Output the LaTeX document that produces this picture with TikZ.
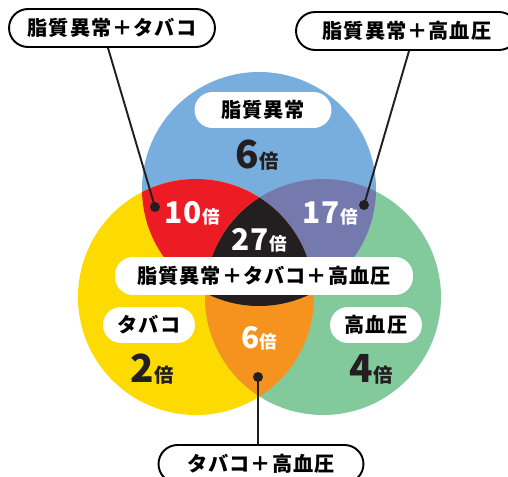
\documentclass[tikz,border=0pt]{standalone}
\usepackage{fontspec}
\newfontfamily\jpfont{Noto Sans CJK JP}[LetterSpace=5]
\definecolor{lipidblue}{HTML}{78AEDD}
\definecolor{tobyellow}{HTML}{FEDB00}
\definecolor{hypgreen}{HTML}{82CA9C}
\definecolor{ltred}{HTML}{ED1C24}
\definecolor{lhpurple}{HTML}{7479AE}
\definecolor{thorange}{HTML}{F6921E}
\definecolor{allblack}{HTML}{231F20}
\newcommand{\baiunit}[1]{{\fontsize{#1}{#1}\selectfont 倍}}
\begin{document}
\begin{tikzpicture}[x=0.02cm, y=-0.02cm,
	callout/.style={draw=black, line width=1.1pt, fill=white, rounded corners=0.38cm,
		minimum height=0.76cm, inner sep=0pt, font=\jpfont\bfseries\fontsize{11.5}{12}\selectfont},
	tag/.style={fill=white, rounded corners=0.36cm, minimum height=0.72cm, inner sep=0pt,
		font=\jpfont\bfseries\fontsize{11.5}{12}\selectfont},
	bignum/.style={anchor=base, text=allblack, inner sep=0pt, font=\jpfont\bfseries\fontsize{22}{22}\selectfont},
	midnum/.style={anchor=base, text=white, inner sep=0pt, font=\jpfont\bfseries\fontsize{17}{17}\selectfont},
	conn/.style={line width=1.1pt, draw=allblack},
	dot/.style={circle, fill=allblack, inner sep=0pt, minimum size=0.2cm}]
	\useasboundingbox (0,0) rectangle (508,477);
	\coordinate (lipid) at (259,189);
	\coordinate (tob) at (196,297);
	\coordinate (hyp) at (323,297);
	% three circles
	\fill[lipidblue] (lipid) circle[radius=117];
	\fill[tobyellow] (tob) circle[radius=118];
	\fill[hypgreen] (hyp) circle[radius=118];
	% overlaps
	\begin{scope}
		\clip (lipid) circle[radius=117];
		\fill[ltred] (tob) circle[radius=118];
		\fill[lhpurple] (hyp) circle[radius=118];
	\end{scope}
	\begin{scope}
		\clip (tob) circle[radius=118];
		\fill[thorange] (hyp) circle[radius=118];
		\clip (lipid) circle[radius=117];
		\fill[allblack] (hyp) circle[radius=118];
	\end{scope}
	% labels inside
	\node[tag, minimum width=2.74cm] (lipidtag) at (263,110) {脂質異常};
	\node[tag, minimum width=1.84cm] (tobtag) at (149,325) {タバコ};
	\node[tag, minimum width=1.84cm] (hyptag) at (376,325) {高血圧};
	\node[tag, minimum width=5.96cm, minimum height=0.76cm] (alltag) at (264,276) {脂質異常＋タバコ＋高血圧};
	\node[bignum] (lipidval) at (257,168) {6\baiunit{11}};
	\node[bignum] (tobval) at (152,382) {2\baiunit{11}};
	\node[bignum] (hypval) at (371,382) {4\baiunit{11}};
	\node[midnum] (ltval) at (192,223) {10\baiunit{10}};
	\node[midnum] (lhval) at (330,223) {17\baiunit{10}};
	\node[midnum] (allval) at (259,250) {27\baiunit{10}};
	\node[midnum] (thval) at (259,348) {6\baiunit{10}};
	% callouts
	\node[callout, minimum width=4.12cm] (ltbox) at (112,28) {脂質異常＋タバコ};
	\node[callout, minimum width=4.44cm] (lhbox) at (407,31) {脂質異常＋高血圧};
	\node[callout, minimum width=4.1cm] (thbox) at (261,464) {タバコ＋高血圧};
	\node[dot] (ltdot) at (155,207) {};
	\node[dot] (lhdot) at (364,205) {};
	\node[dot] (thdot) at (258,377) {};
	\draw[conn] (ltdot.center) -- ([xshift=-0.08cm]ltbox.south);
	\draw[conn] (lhdot.center) -- ([xshift=0.04cm]lhbox.south);
	\draw[conn] (thdot.center) -- (thdot.center |- thbox.north);
\end{tikzpicture}
\end{document}
